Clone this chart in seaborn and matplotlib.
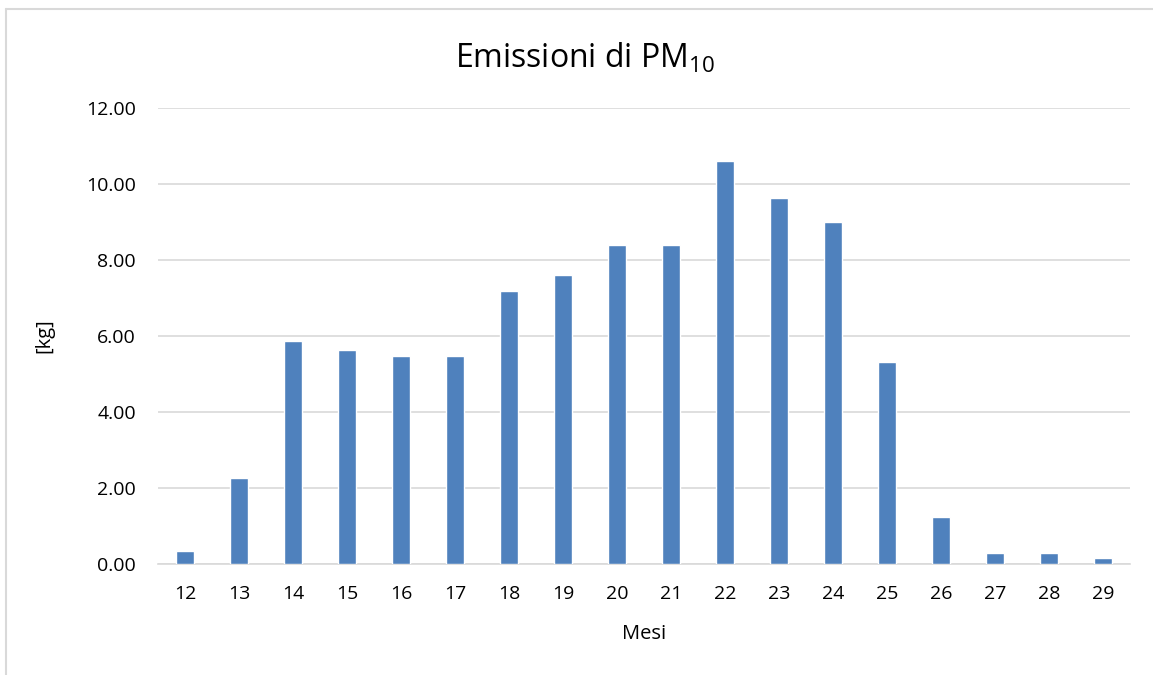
import matplotlib
matplotlib.use("Agg")
import matplotlib.pyplot as plt
import seaborn as sns
import pandas as pd
from matplotlib.lines import Line2D

months = ["12", "13", "14", "15", "16", "17", "18", "19", "20",
          "21", "22", "23", "24", "25", "26", "27", "28", "29"]
pm10_kg = [0.34, 2.26, 5.87, 5.63, 5.47, 5.47, 7.18, 7.60, 8.39,
           8.39, 10.60, 9.63, 9.00, 5.32, 1.24, 0.29, 0.29, 0.16]
y_ticks = [0, 2, 4, 6, 8, 10, 12]

sns.set_theme(style="white")
plt.rcParams['font.family'] = ['Open Sans', 'DejaVu Sans']
plt.rcParams['mathtext.default'] = 'regular'

df = pd.DataFrame({"Mesi": months, "kg": pm10_kg})

fig = plt.figure(figsize=(11.53, 6.75), dpi=100)
ax = fig.add_axes([158/1153, 1-564/675, (1130-158)/1153, (564-108)/675])

sns.barplot(data=df, x="Mesi", y="kg", color="#4F81BD", width=0.315,
            saturation=1, ax=ax, zorder=3)

ax.set_ylim(0, 12)
ax.set_yticks(y_ticks)
ax.set_yticklabels([f"{v:.2f}" for v in y_ticks], fontsize=14, color="#000000")
ax.tick_params(axis='x', labelsize=14, colors="#000000", length=0, pad=15)
ax.tick_params(axis='y', length=0, pad=16)
ax.set_xlim(-0.5, len(months) - 0.5)
ax.grid(axis='y', color="#D9D9D9", linewidth=1.2, zorder=0)
ax.set_axisbelow(True)
for s in ["top", "right", "left"]:
    ax.spines[s].set_visible(False)
ax.spines["bottom"].set_color("#D9D9D9")
ax.spines["bottom"].set_linewidth(1.2)

ax.set_xlabel("Mesi", fontsize=14.5, color="#000000", labelpad=15)
ax.set_ylabel("[kg]", fontsize=14.5, color="#000000", labelpad=23)

fig.text(585/1153, 1-58/675, "Emissioni di PM$_{10}$", ha="center", va="center",
         fontsize=23, color="#000000")

# outer chart border
fig.add_artist(Line2D([6/1153, 6/1153], [0, 1-9/675], color="#D9D9D9", linewidth=1.5,
                      transform=fig.transFigure))
fig.add_artist(Line2D([6/1153, 1], [1-9/675, 1-9/675], color="#D9D9D9", linewidth=1.5,
                      transform=fig.transFigure))

fig.savefig("out.png", dpi=100, facecolor="white")
